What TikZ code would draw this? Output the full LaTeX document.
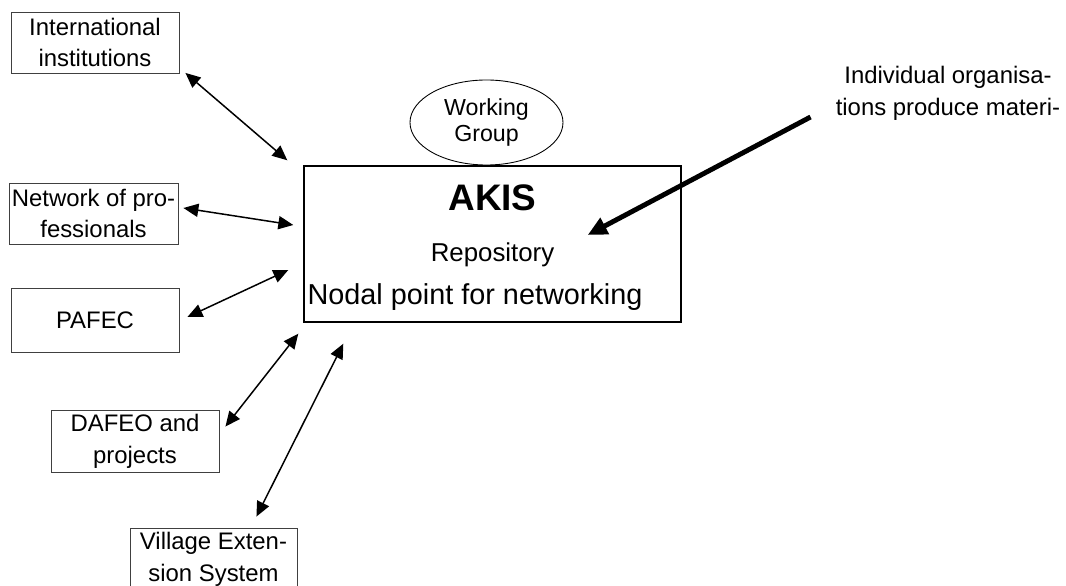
\documentclass[tikz,border=0pt]{standalone}
\usepackage{fontspec}
\setmainfont{Liberation Sans}
\usetikzlibrary{arrows.meta,shapes.geometric}
\newcommand{\boxfont}{\fontsize{13.6}{18.1}\selectfont}

\begin{document}
\begin{tikzpicture}[
        partner/.style={draw=black!75, line width=0.5pt, minimum width=3.36cm, minimum height=1.24cm, inner sep=0pt, align=center, font=\boxfont},
        link/.style={line width=0.85pt, {Triangle[length=8.5pt,width=7.5pt]}-{Triangle[length=8.5pt,width=7.5pt]}},
        feed/.style={line width=2.8pt, -{Triangle[length=11pt,width=10pt]}}
    ]
    \useasboundingbox (0,0) rectangle (21.32,11.72);
    % partners round the centre
    \node[partner, minimum height=1.22cm] (inst) at (1.90,10.87) {International\\institutions};
    \node[partner, minimum width=3.38cm, minimum height=1.22cm] (netw) at (1.87,7.45) {Network of pro-\\fessionals};
    \node[partner, minimum height=1.28cm] (pafec) at (1.90,5.32) {PAFEC};
    \node[partner] (dafeo) at (2.70,2.90) {DAFEO and\\projects};
    \node[partner, minimum width=3.34cm] (vill) at (4.27,0.54) {Village Exten-\\sion System};
    % the centre
    \node[draw, line width=0.8pt, minimum width=7.54cm, minimum height=3.12cm, inner sep=0pt] (akis) at (9.85,6.84) {};
    \node[anchor=base, font=\fontsize{21}{25}\selectfont\bfseries] (title) at (9.85,7.50) {AKIS};
    \node[anchor=base, font=\fontsize{14.7}{18}\selectfont] (repo) at (9.85,6.48) {Repository};
    \begin{scope}
        \clip (6.08,5.53) rectangle (13.62,8.40);
        \node[anchor=base, font=\fontsize{16.4}{20}\selectfont] (nodal) at (9.50,5.62) {Nodal point for networking};
    \end{scope}
    \node[draw, ellipse, line width=0.5pt, minimum width=3.06cm, minimum height=1.70cm, inner sep=0pt, align=center, font=\fontsize{13.2}{14.7}\selectfont] (wg) at (9.73,9.27) {Working\\Group};
    \node[align=center, font=\boxfont] (indiv) at (18.96,9.86) {Individual organisa-\\tions produce materi-};
    % links
    \draw[link] ([shift={(0.12,0.01)}]inst.south east) -- ([shift={(-0.32,0.10)}]akis.north west);
    \draw[link] ([shift={(0.10,0.11)}]netw.east) -- ([shift={(-0.20,0.38)}]akis.west);
    \draw[link] ([shift={(0.16,0.06)}]pafec.east) -- ([shift={(-0.30,-0.52)}]akis.west);
    \draw[link] ([shift={(0.12,-0.34)}]dafeo.north east) -- ([shift={(-0.10,-0.22)}]akis.south west);
    \draw[link] ([shift={(-0.82,0.22)}]vill.north east) -- ([shift={(0.80,-0.42)}]akis.south west);
    \draw[feed] ([shift={(-0.38,-0.48)}]indiv.west) -- ([shift={(-1.88,0.18)}]akis.east);
\end{tikzpicture}
\end{document}
